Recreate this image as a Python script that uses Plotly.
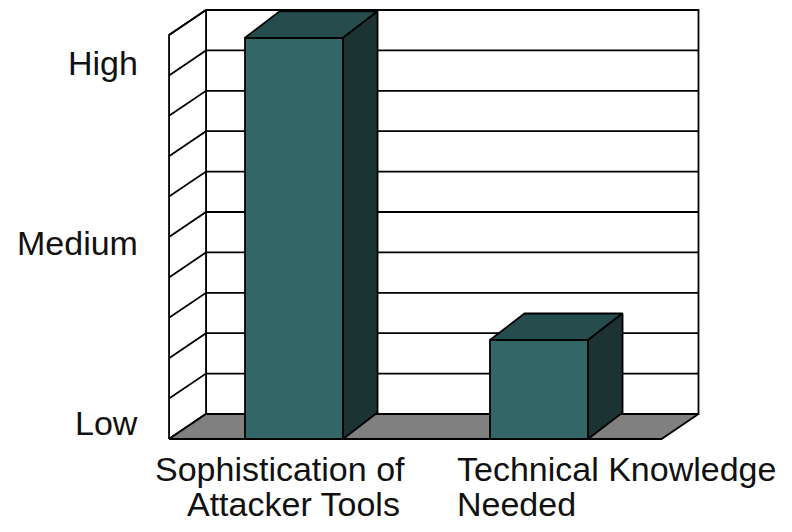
import plotly.graph_objects as go

# ---- data ----
cat_line1 = ["Sophistication of", "Technical Knowledge"]
cat_line2 = ["Attacker Tools", "Needed"]
cat_pos = [0, 1]
values = [9.93, 2.45]
level_labels = ["Low", "Medium", "High"]
level_values = [0.4, 4.85, 9.3]
grid_values = [0, 1, 2, 3, 4, 5, 6, 7, 8, 9, 10]

# ---- style / layout constants (axis units) ----
WALL_DX, WALL_DY = 0.151, 0.619   # depth of walls/floor
BAR_DX, BAR_DY = 0.141, 0.656     # depth of bars
BAR_HALF = 0.2
FLOOR_X0, FLOOR_X1 = -0.51, 1.50
YMAX = 10
LINE = dict(color="black", width=1.8)
FRONT = "#336666"
TOP = "#264d4d"
SIDE = "#1b3333"
FLOOR = "#808080"
FONT = dict(family="Liberation Sans, Arial, sans-serif", size=34, color="#111111")

fig = go.Figure()


def poly(xs, ys, fill):
    fig.add_trace(go.Scatter(x=xs + [xs[0]], y=ys + [ys[0]], mode="lines", fill="toself",
                             fillcolor=fill, line=LINE, hoverinfo="skip", showlegend=False))


def lines(xs, ys, width=1.8):
    fig.add_trace(go.Scatter(x=xs, y=ys, mode="lines", line=dict(color="black", width=width),
                             hoverinfo="skip", showlegend=False))


bx0, bx1 = FLOOR_X0 + WALL_DX, FLOOR_X1 + WALL_DX
# back wall
poly([bx0, bx1, bx1, bx0], [WALL_DY, WALL_DY, YMAX + WALL_DY, YMAX + WALL_DY], "white")
# left wall
poly([FLOOR_X0, bx0, bx0, FLOOR_X0], [0, WALL_DY, YMAX + WALL_DY, YMAX], "white")
# gridlines on back wall and left wall
gx, gy = [], []
for g in grid_values:
    gx += [FLOOR_X0, bx0, bx1, None]
    gy += [g, g + WALL_DY, g + WALL_DY, None]
lines(gx, gy)
# floor
poly([FLOOR_X0, FLOOR_X1, bx1, bx0], [0, 0, WALL_DY, WALL_DY], FLOOR)

# bars
for c, v in zip(cat_pos, values):
    l, r = c - BAR_HALF, c + BAR_HALF
    poly([l, r, r, l], [0, 0, v, v], FRONT)
    poly([l, r, r + BAR_DX, l + BAR_DX], [v, v, v + BAR_DY, v + BAR_DY], TOP)
    poly([r, r + BAR_DX, r + BAR_DX, r], [0, BAR_DY, v + BAR_DY, v], SIDE)

# level labels
for lab, lv in zip(level_labels, level_values):
    fig.add_annotation(x=-0.629, y=lv, text=lab, showarrow=False, xanchor="right",
                       yanchor="middle", font=FONT)

# category labels
fig.add_annotation(x=-0.057, y=-0.74, text=cat_line1[0], showarrow=False, xanchor="center",
                   yanchor="middle", font=FONT)
fig.add_annotation(x=-0.004, y=-1.61, text=cat_line2[0], showarrow=False, xanchor="center",
                   yanchor="middle", font=FONT)
fig.add_annotation(x=0.657, y=-0.74, text=cat_line1[1], showarrow=False, xanchor="left",
                   yanchor="middle", font=FONT)
fig.add_annotation(x=0.657, y=-1.61, text=cat_line2[1], showarrow=False, xanchor="left",
                   yanchor="middle", font=FONT)

fig.update_layout(
    width=792, height=532, margin=dict(l=0, r=0, t=0, b=0),
    paper_bgcolor="white", plot_bgcolor="white",
    xaxis=dict(range=[-1.2, 2.0327], visible=False, fixedrange=True),
    yaxis=dict(range=[-2.302, 10.866], visible=False, fixedrange=True),
)
fig.write_html("out.html", config={"displayModeBar": False})
